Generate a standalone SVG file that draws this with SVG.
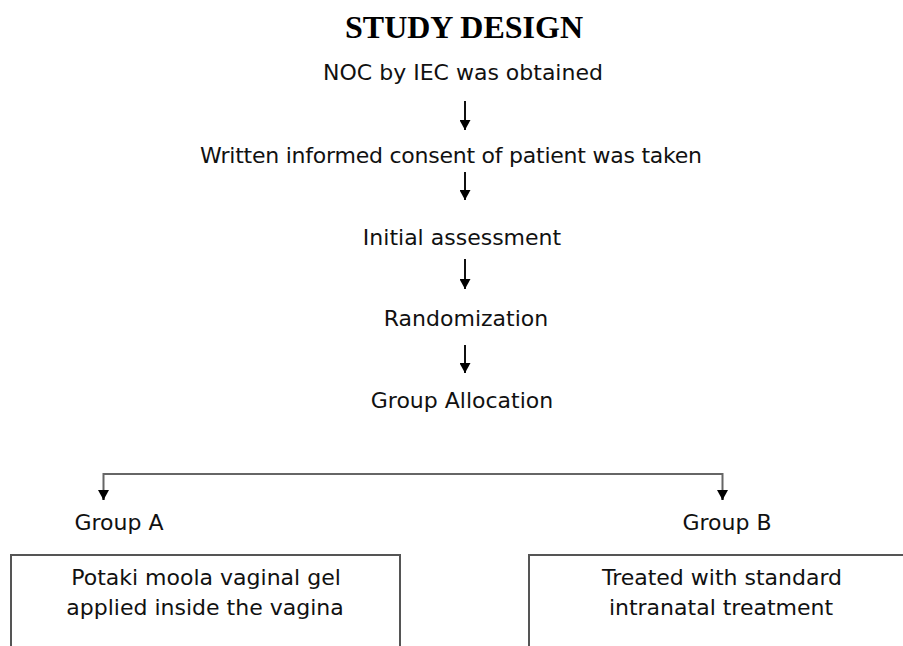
<svg xmlns="http://www.w3.org/2000/svg" width="903" height="646" viewBox="0 0 903 646">
<defs>
<marker id="ah" viewBox="0 0 10 11" refX="10" refY="5.5" markerWidth="10" markerHeight="11" markerUnits="userSpaceOnUse" orient="auto">
<path d="M0,0 L10,5.5 L0,11 Z" fill="#000"/>
</marker>
<style>
.t{font-family:"DejaVu Sans","Verdana",sans-serif;font-size:22px;fill:#111;text-anchor:middle}
.title{font-family:"Liberation Serif","Times New Roman",serif;font-size:32px;font-weight:bold;fill:#000;text-anchor:middle}
.c{stroke:#111;stroke-width:2;fill:none}
.g{stroke:#666;stroke-width:2;fill:none}
.box{stroke:#555;stroke-width:2;fill:#fff}
</style>
</defs>
<rect width="903" height="646" fill="#fff"/>
<text class="title" x="464" y="38">STUDY DESIGN</text>
<g id="noc"><text class="t" x="463" y="80">NOC by IEC was obtained</text></g>
<g id="consent"><text class="t" x="451" y="163" textLength="502" lengthAdjust="spacing">Written informed consent of patient was taken</text></g>
<g id="assessment"><text class="t" x="462" y="245">Initial assessment</text></g>
<g id="randomization"><text class="t" x="466" y="326">Randomization</text></g>
<g id="allocation"><text class="t" x="462" y="408">Group Allocation</text></g>
<g id="groupA"><text class="t" x="119" y="530">Group A</text></g>
<g id="groupB"><text class="t" x="727" y="530">Group B</text></g>
<g id="boxA">
<rect class="box" x="11" y="555" width="389" height="100"/>
<text class="t" x="206" y="585">Potaki moola vaginal gel</text>
<text class="t" x="205" y="615">applied inside the vagina</text>
</g>
<g id="boxB">
<rect class="box" x="529" y="555" width="390" height="100"/>
<text class="t" x="722" y="585">Treated with standard</text>
<text class="t" x="721" y="615">intranatal treatment</text>
</g>
<g id="connectors">
<line class="c" x1="465" y1="101" x2="465" y2="130" marker-end="url(#ah)"/>
<line class="c" x1="465" y1="172" x2="465" y2="200" marker-end="url(#ah)"/>
<line class="c" x1="465" y1="259" x2="465" y2="289" marker-end="url(#ah)"/>
<line class="c" x1="465" y1="345" x2="465" y2="373" marker-end="url(#ah)"/>
<path class="g" d="M103.5,500 V474 H722.5 V500"/>
<line class="c" x1="103.5" y1="490" x2="103.5" y2="500" marker-end="url(#ah)"/>
<line class="c" x1="722.5" y1="490" x2="722.5" y2="500" marker-end="url(#ah)"/>
</g>
</svg>
